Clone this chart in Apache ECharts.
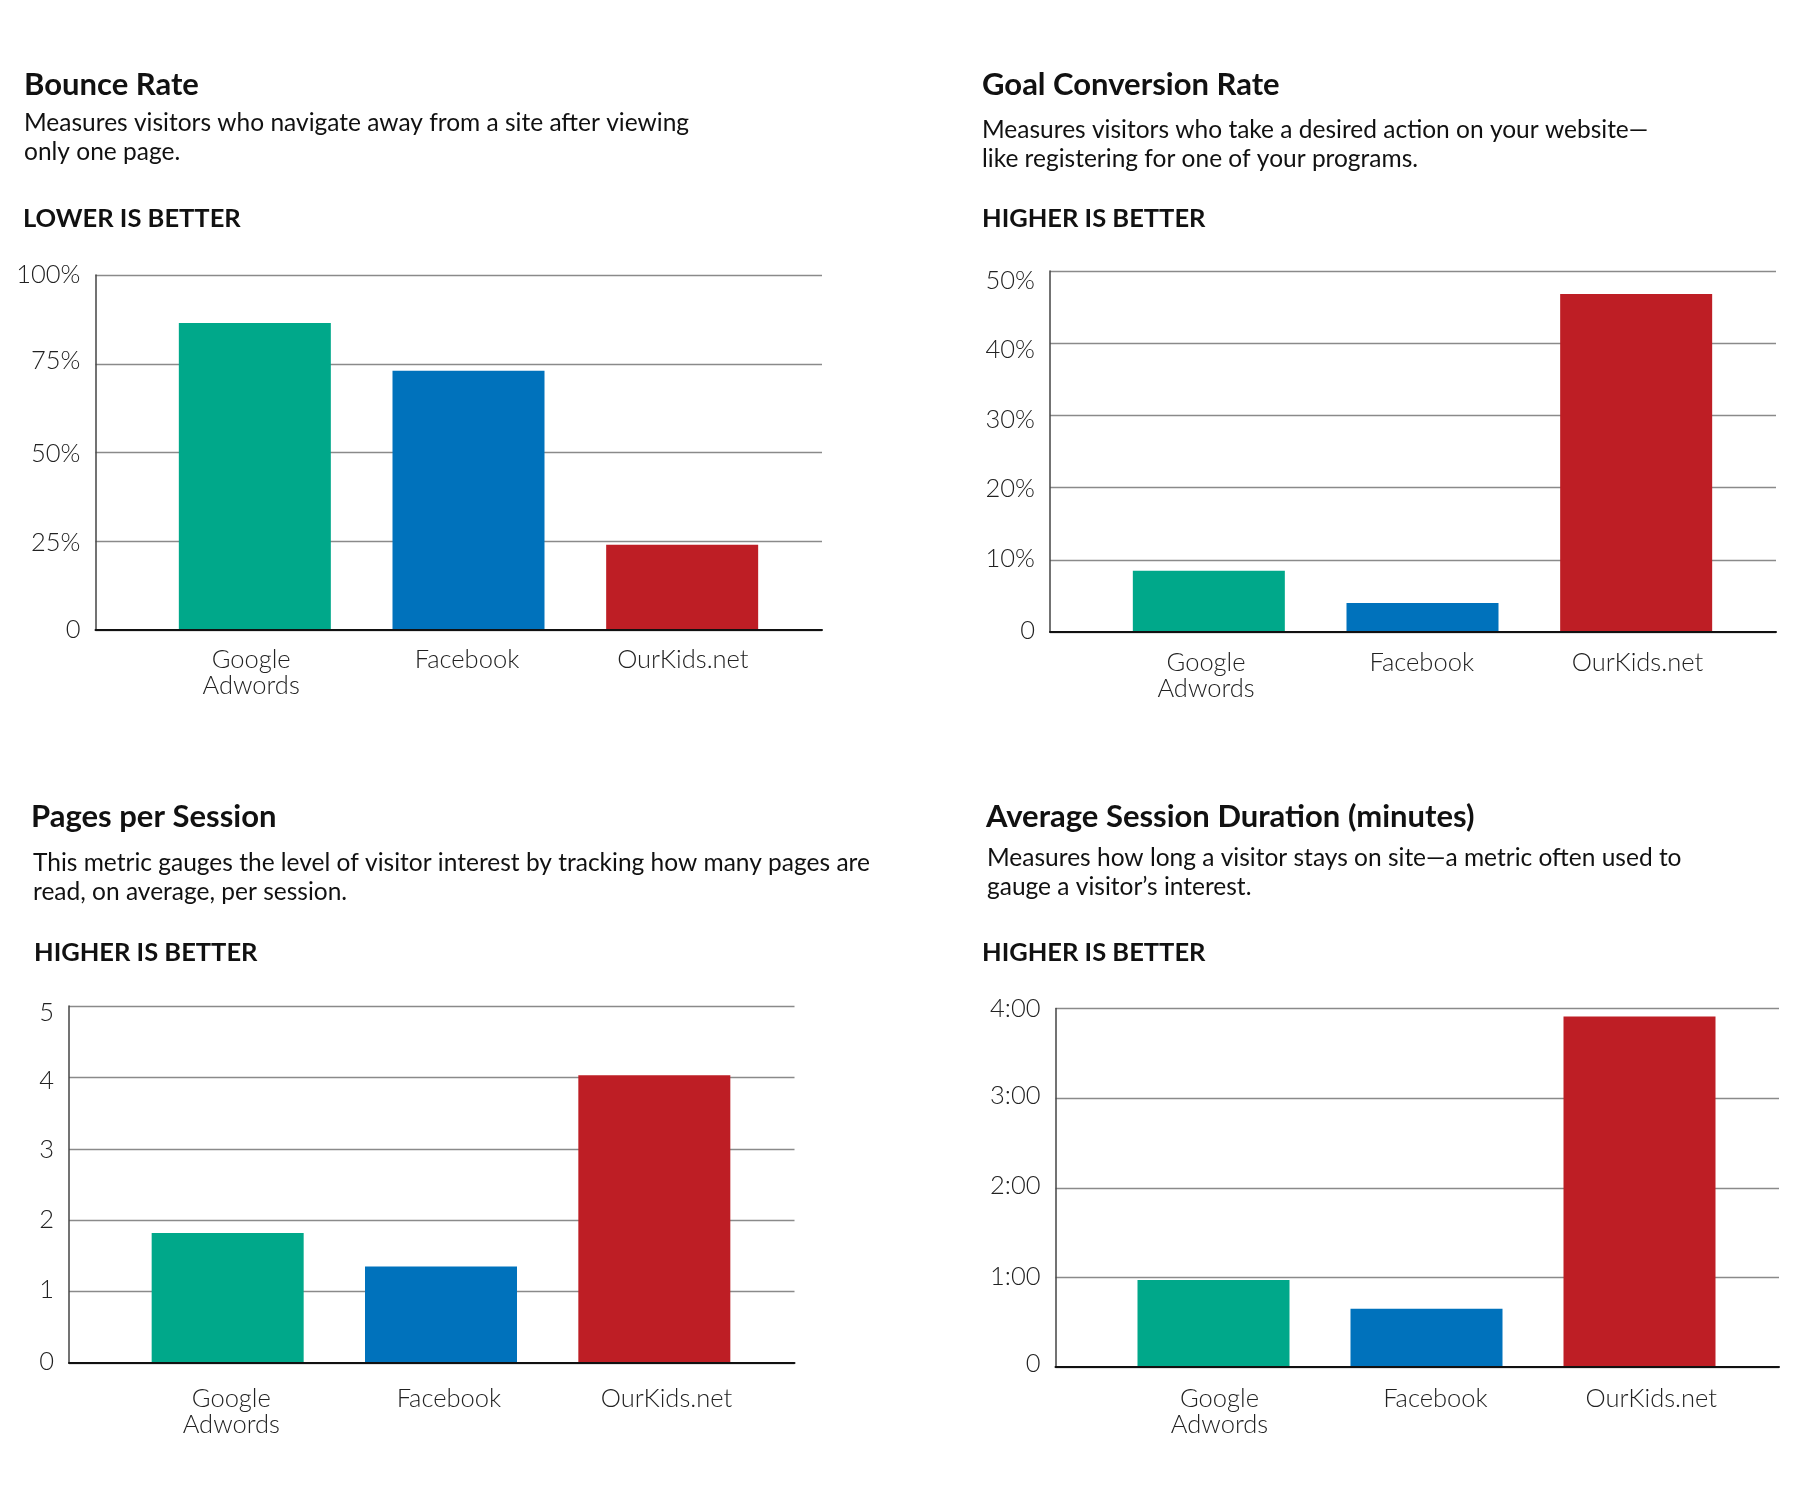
<!DOCTYPE html>
<html>
<head>
<meta charset="utf-8">
<title>Campaign metrics</title>
<script src="https://cdn.jsdelivr.net/npm/echarts@6/dist/echarts.min.js"></script>
<style>
html, body { margin: 0; padding: 0; background: #fff; }
#chart { width: 1816px; height: 1498px; }
</style>
</head>
<body>
<div id="chart"></div>
<script>
// categories + bar colours
const categories = ['Google\nAdwords', 'Facebook', 'OurKids.net'];
const barColors = ['#00a88a', '#0072bc', '#be1e25'];

// values
const bounceRate = [86.5, 73, 24];          // %
const conversionRate = [8.5, 4, 46.8];      // %
const pagesPerSession = [1.82, 1.35, 4.03];
const sessionMinutes = [0.97, 0.65, 3.91];  // minutes

// y tick labels
const bounceTicks = ['0', '25%', '50%', '75%', '100%'];
const conversionTicks = ['0', '10%', '20%', '30%', '40%', '50%'];
const pagesTicks = ['0', '1', '2', '3', '4', '5'];
const durationTicks = ['0', '1:00', '2:00', '3:00', '4:00'];

const FONT = 'Lato, "Noto Sans", sans-serif';

// layout of each panel (px); labelShift nudges the y labels like the original artwork does,
// labels = band used by the category names (they are not quite centred under the bars)
const panels = [
  {
    title: 'Bounce Rate',
    desc: 'Measures visitors who navigate away from a site after viewing\nonly one page.',
    note: 'LOWER IS BETTER',
    pos: {title: [24, 69], desc: [24, 109], note: [23, 206.5]},
    data: bounceRate, ticks: bounceTicks, interval: 25,
    plot: {left: 95.5, top: 275, right: 822, bottom: 630},
    bars: {left: 148, right: 789},
    labels: {left: 143.2, width: 647.6}, catMargin: 17,
    labelShift: [0, 2, 1, -3, 0]
  },
  {
    title: 'Goal Conversion Rate',
    desc: 'Measures visitors who take a desired action on your website\u2014\nlike registering for one of your programs.',
    note: 'HIGHER IS BETTER',
    pos: {title: [982, 69], desc: [982, 116], note: [982, 206.5]},
    data: conversionRate, ticks: conversionTicks, interval: 10,
    plot: {left: 1050, top: 271, right: 1776, bottom: 632},
    bars: {left: 1102, right: 1743},
    labels: {left: 1098.2, width: 647.1}, catMargin: 18,
    labelShift: [-1, -1, 1, 4.5, 6.5, 10]
  },
  {
    title: 'Pages per Session',
    desc: 'This metric gauges the level of visitor interest by tracking how many pages are\nread, on average, per session.',
    note: 'HIGHER IS BETTER',
    pos: {title: [31, 801], desc: [33, 849], note: [34, 940.5]},
    data: pagesPerSession, ticks: pagesTicks, interval: 1,
    plot: {left: 69, top: 1006, right: 794.5, bottom: 1363},
    bars: {left: 121, right: 761},
    labels: {left: 122.5, width: 652.8}, catMargin: 23,
    labelShift: [-1, -2, 0, 1, 3, 6.5]
  },
  {
    title: 'Average Session Duration (minutes)',
    desc: 'Measures how long a visitor stays on site\u2014a metric often used to\ngauge a visitor\u2019s interest.',
    note: 'HIGHER IS BETTER',
    pos: {title: [986, 801], desc: [987, 843.5], note: [982, 940.5]},
    data: sessionMinutes, ticks: durationTicks, interval: 1,
    plot: {left: 1055.5, top: 1008.5, right: 1779, bottom: 1367},
    bars: {left: 1107, right: 1746},
    labels: {left: 1111.5, width: 647.8}, catMargin: 19,
    labelShift: [-3, -1, -2, -2, 0]
  }
];

let titles = [], grids = [], xAxes = [], yAxes = [], series = [];

panels.forEach((p, i) => {
  const max = p.interval * (p.ticks.length - 1);
  const h = p.plot.bottom - p.plot.top;
  const g = 3 * i;

  // one rich style per tick so each label can sit a little off its gridline
  let rich = {};
  p.labelShift.forEach((s, k) => {
    rich['t' + k] = {
      fontFamily: FONT, fontWeight: 300, fontSize: 25.5, color: '#222',
      padding: s >= 0 ? [2 * s, 0, 0, 0] : [0, 0, -2 * s, 0]
    };
  });

  titles.push(
    {text: p.title, left: p.pos.title[0], top: p.pos.title[1], padding: 0,
     textStyle: {fontFamily: FONT, fontWeight: 'bold', fontSize: 31, lineHeight: 31, color: '#111'}},
    {text: p.desc, left: p.pos.desc[0], top: p.pos.desc[1], padding: 0,
     textStyle: {fontFamily: FONT, fontWeight: 'normal', fontSize: 24.5, lineHeight: 29, color: '#111'}},
    {text: p.note, left: p.pos.note[0], top: p.pos.note[1], padding: 0,
     textStyle: {fontFamily: FONT, fontWeight: 'bold', fontSize: 25.5, lineHeight: 25, color: '#111'}}
  );

  // full width grid: y axis, gridlines, baseline
  grids.push({left: p.plot.left, top: p.plot.top, width: p.plot.right - p.plot.left, height: h});
  // narrower grid holding the bars
  grids.push({left: p.bars.left, top: p.plot.top, width: p.bars.right - p.bars.left, height: h});
  // band for the category names
  grids.push({left: p.labels.left, top: p.plot.top, width: p.labels.width, height: h});

  xAxes.push({
    gridIndex: g, type: 'value', min: 0, max: 1, z: 5,
    axisLine: {show: true, lineStyle: {color: '#111', width: 2}},
    axisTick: {show: false}, axisLabel: {show: false}, splitLine: {show: false}
  });
  xAxes.push({
    gridIndex: g + 1, type: 'category', data: categories, show: false
  });
  xAxes.push({
    gridIndex: g + 2, type: 'category', data: categories,
    axisLine: {show: false}, axisTick: {show: false},
    axisLabel: {
      margin: p.catMargin, fontFamily: FONT, fontWeight: 300, fontSize: 25.5, lineHeight: 26,
      color: '#222', interval: 0
    }
  });

  yAxes.push({
    gridIndex: g, type: 'value', min: 0, max: max, interval: p.interval,
    axisLine: {show: true, lineStyle: {color: '#444', width: 1.5}},
    axisTick: {show: false},
    splitLine: {lineStyle: {color: '#8a8a8a', width: 1.4}},
    axisLabel: {
      margin: 15, fontFamily: FONT, fontWeight: 300, fontSize: 25.5, color: '#222',
      rich: rich,
      formatter: v => {
        const k = Math.round(v / p.interval);
        return '{t' + k + '|' + p.ticks[k] + '}';
      }
    }
  });
  yAxes.push({gridIndex: g + 1, type: 'value', min: 0, max: max, show: false});
  yAxes.push({gridIndex: g + 2, type: 'value', min: 0, max: max, show: false});

  series.push({
    type: 'bar', xAxisIndex: g + 1, yAxisIndex: g + 1,
    data: p.data, barWidth: 152, silent: true,
    itemStyle: {color: params => barColors[params.dataIndex]}
  });
});

let myChart = echarts.init(document.getElementById('chart'));
myChart.setOption({
  backgroundColor: '#fff',
  animation: false,
  title: titles,
  grid: grids,
  xAxis: xAxes,
  yAxis: yAxes,
  series: series
});
</script>
</body>
</html>
